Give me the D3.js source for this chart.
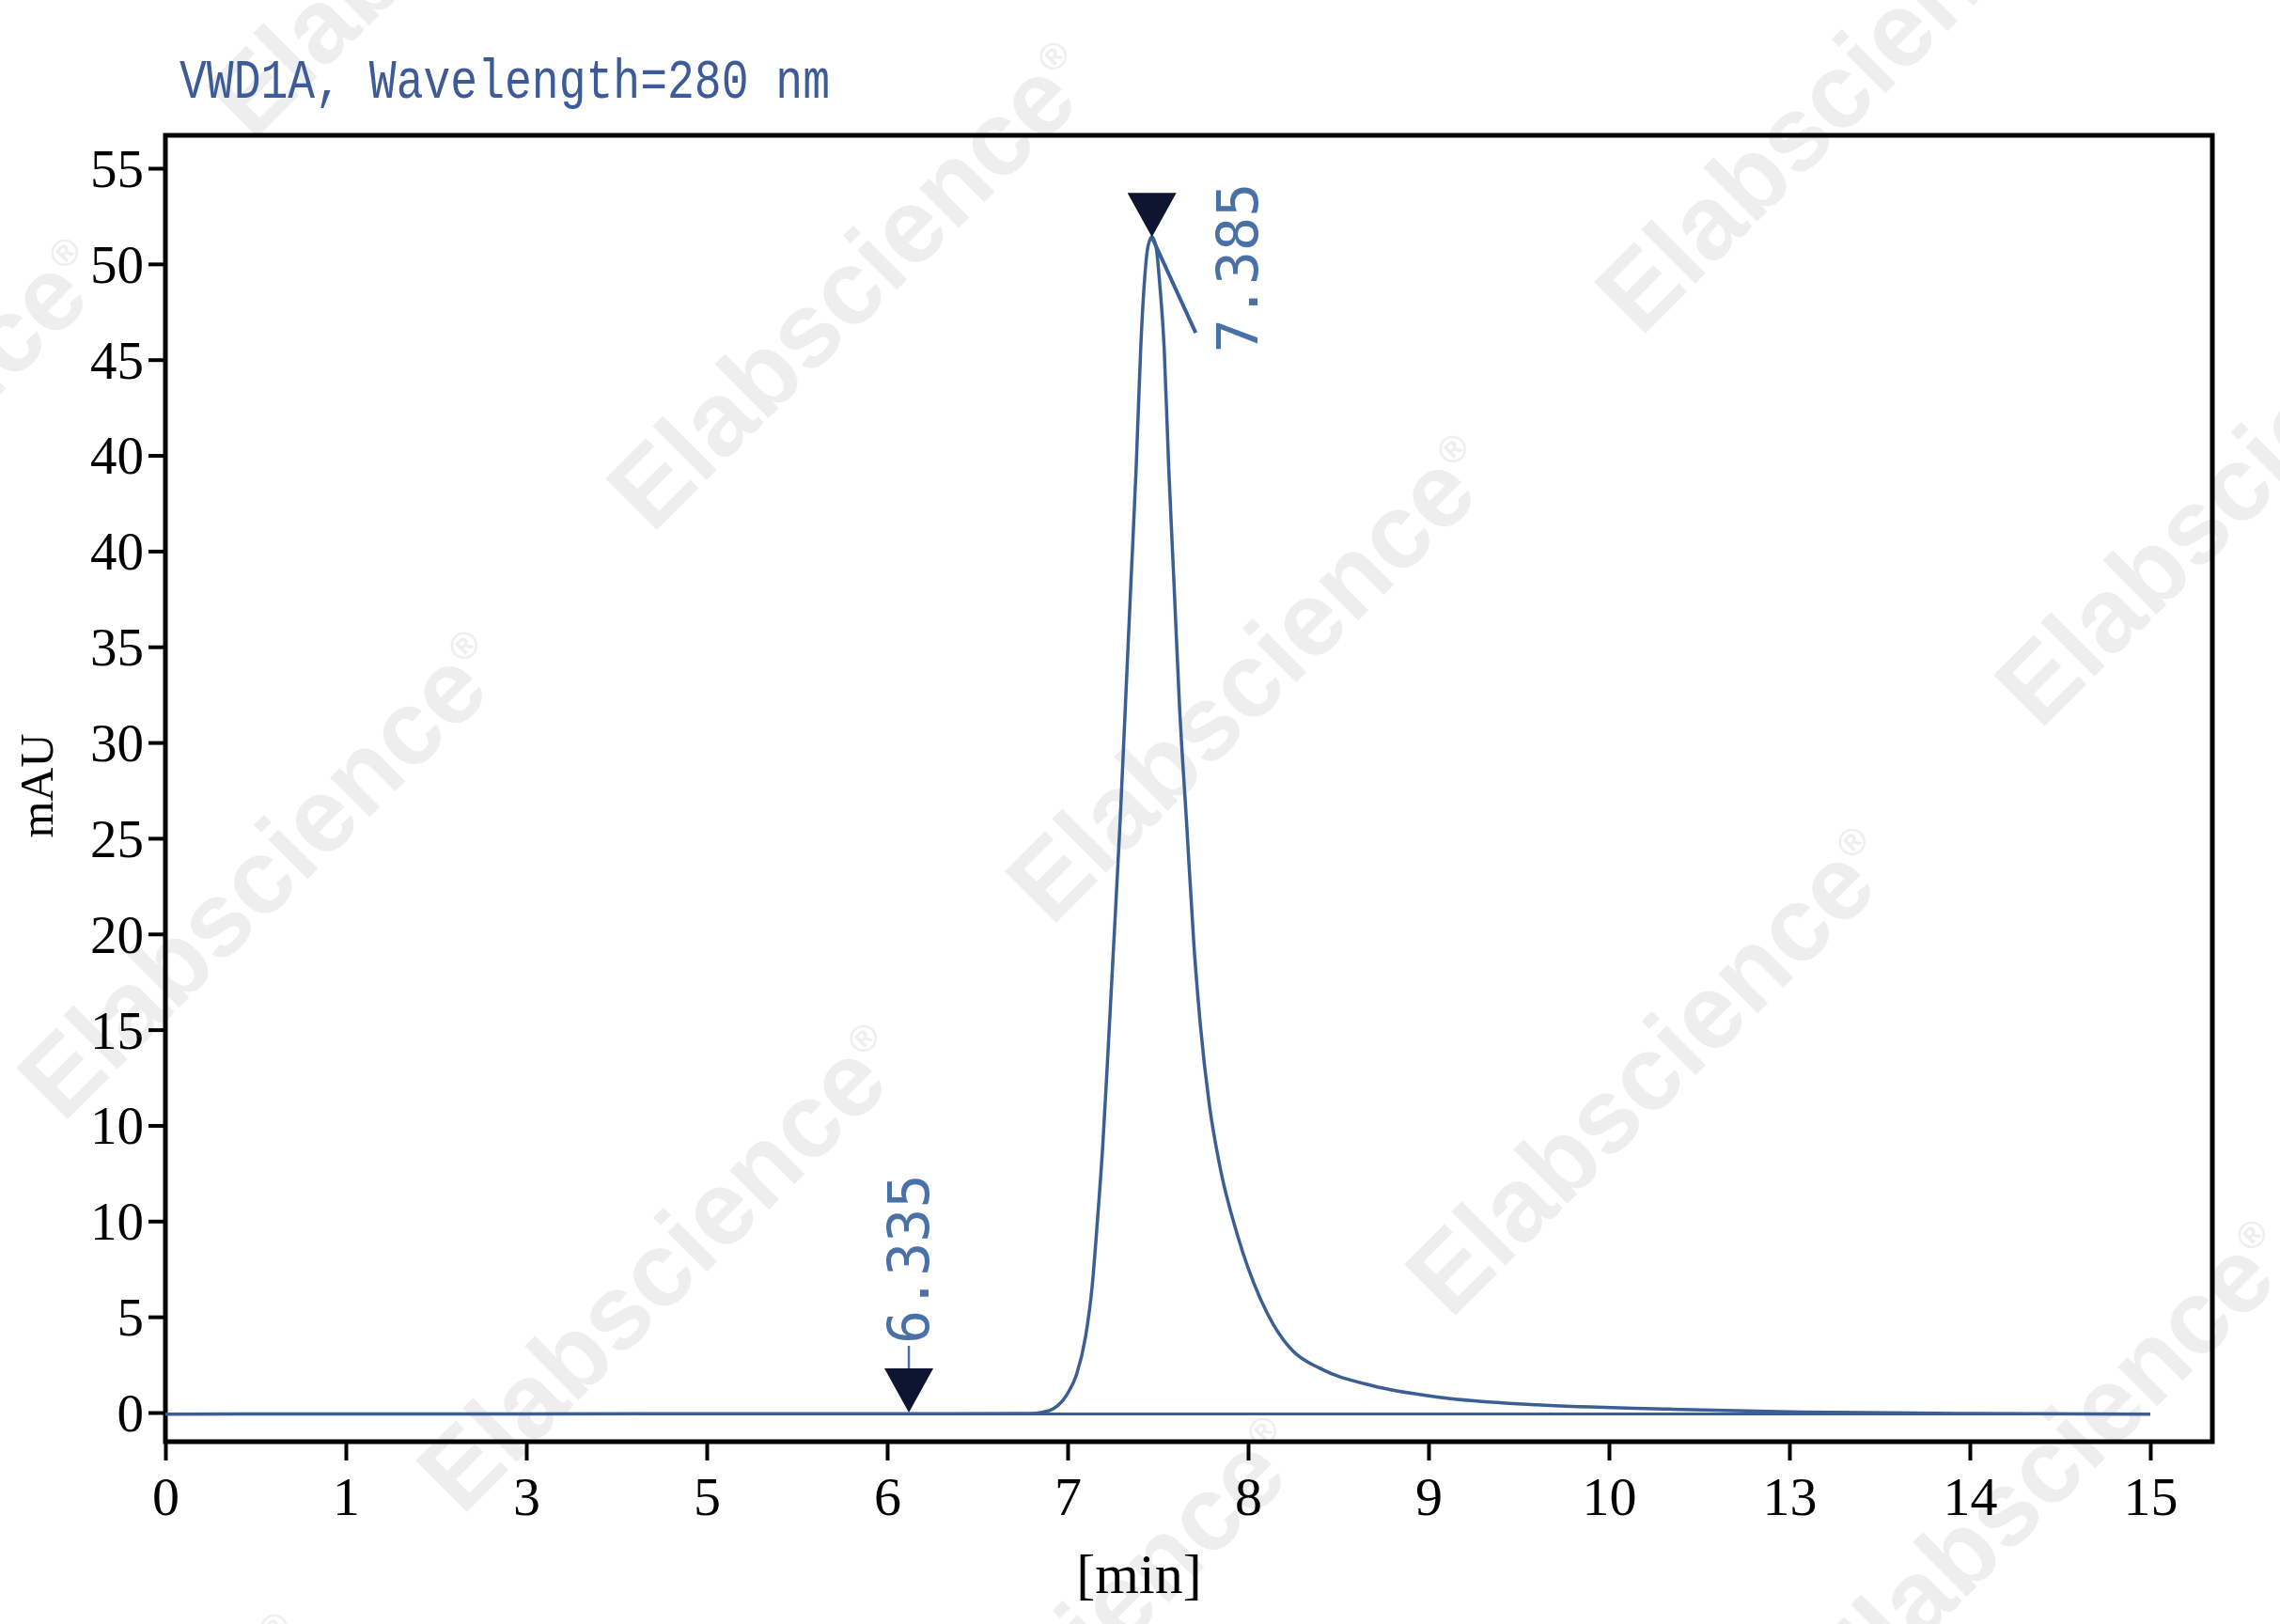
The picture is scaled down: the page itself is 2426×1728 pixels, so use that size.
<!DOCTYPE html>
<html>
<head>
<meta charset="utf-8">
<script src="https://cdn.jsdelivr.net/npm/d3@7"></script>
<style>
  body { margin: 0; background: #fff; }
  svg { display: block; }
</style>
</head>
<body>
<svg id="chart" width="2426" height="1728"></svg>
<script>
// data
const xTicks = [0, 1, 3, 5, 6, 7, 8, 9, 10, 13, 14, 15];
// y ticks sit every 5 units, the printed labels are not the same as the values
const yTicks = [0, 5, 10, 15, 20, 25, 30, 35, 40, 45, 50, 55, 60, 65];
const yTickLabels = ["0", "5", "10", "10", "15", "20", "25", "30", "35", "40", "40", "45", "50", "55"];

const signalTime = [0, 3, 6, 6.8, 6.86, 6.92, 6.97, 7.00, 7.05, 7.10, 7.135, 7.165, 7.195, 7.22, 7.255,
  7.29, 7.32, 7.35, 7.38, 7.405, 7.425, 7.445, 7.467, 7.49, 7.51, 7.535, 7.56, 7.59, 7.62,
  7.66, 7.70, 7.735, 7.785, 7.845, 7.94, 8.07, 8.14, 8.25, 8.40, 8.69, 9.06, 9.60, 11.0,
  13.06, 13.98, 15];
const signalValue = [-0.08, -0.07, -0.06, -0.05, 0.02, 0.2, 0.6, 1.0, 2.0, 4.0, 6.5, 10.0, 14.0, 18.2, 24.4,
  30.7, 36.9, 43.2, 49.4, 55.6, 59.0, 60.9, 61.4, 60.9, 59.0, 55.6, 49.4, 43.2, 36.9,
  30.7, 24.4, 20.3, 16.1, 12.8, 9.3, 5.9, 4.6, 3.2, 2.3, 1.4, 0.8, 0.4, 0.18,
  0.03, -0.05, -0.08];

const baselineTime = [0, 15];
const baselineValue = [-0.07, -0.07];

const markerTime = [6.12, 7.467];
const markerValue = [0, 61.4];
const markerLabels = ["6.335", "7.385"];

// tangent tick drawn from the peak apex
const leaderTime = [7.467, 7.71];
const leaderValue = [61.4, 56.4];

const svg = d3.select("#chart");

// frame and scale geometry
const frame = { left: 176, top: 144, right: 2354, bottom: 1534 };
const xStart = 176, xStep = 192;

const x = d3.scaleLinear()
  .domain(xTicks)
  .range(xTicks.map((d, i) => xStart + i * xStep));

const y = d3.scaleLinear()
  .domain([0, 65])
  .range([1503, 179]);

// watermark, very light, behind everything
const wm = svg.append("g").attr("class", "watermark");
const a = [425, 418], b = [-627, 627], c0 = [905, 302];
for (let j = -2; j <= 3; j++) {
  for (let i = -2; i <= 5; i++) {
    const cx = c0[0] + i * a[0] + j * b[0];
    const cy = c0[1] + i * a[1] + j * b[1];
    if (cx < -500 || cx > 2900 || cy < -500 || cy > 2200) continue;
    const t = wm.append("text")
      .attr("transform", `translate(${cx},${cy}) rotate(-45)`)
      .attr("text-anchor", "middle")
      .attr("dy", "0.35em")
      .style("font-family", "'Liberation Sans', Arial, sans-serif")
      .style("font-weight", "bold")
      .style("font-size", "112px")
      .style("fill", "#eeeeee");
    t.append("tspan").text("Elabscience");
    t.append("tspan").attr("dy", "-1.1em").style("font-size", "40px").text("®");
  }
}

// title
svg.append("text")
  .attr("x", 191)
  .attr("y", 104)
  .attr("textLength", 692)
  .attr("lengthAdjust", "spacingAndGlyphs")
  .style("font-family", "'Liberation Mono', 'DejaVu Sans Mono', monospace")
  .style("font-size", "60px")
  .style("fill", "#3d5b98")
  .text("VWD1A, Wavelength=280 nm");

// axes
const xAxis = svg.append("g")
  .attr("transform", `translate(0,${frame.bottom})`)
  .call(d3.axisBottom(x).tickValues(xTicks).tickFormat(d => d).tickSize(20).tickSizeOuter(0));

xAxis.select(".domain").remove();
xAxis.selectAll(".tick line").attr("stroke", "#000").attr("stroke-width", 4);
xAxis.selectAll(".tick text")
  .attr("y", 78)
  .attr("dy", 0)
  .style("font-family", "'Liberation Serif', 'Times New Roman', serif")
  .style("font-size", "58px")
  .style("fill", "#000");

const yAxis = svg.append("g")
  .attr("transform", `translate(${frame.left},0)`)
  .call(d3.axisLeft(y).tickValues(yTicks).tickFormat((d, i) => yTickLabels[i]).tickSize(18).tickSizeOuter(0));

yAxis.select(".domain").remove();
yAxis.selectAll(".tick line").attr("stroke", "#000").attr("stroke-width", 4);
yAxis.selectAll(".tick text")
  .attr("x", -23)
  .attr("dy", "0.34em")
  .style("font-family", "'Liberation Serif', 'Times New Roman', serif")
  .style("font-size", "57px")
  .style("fill", "#000");

// frame
svg.append("rect")
  .attr("x", frame.left)
  .attr("y", frame.top)
  .attr("width", frame.right - frame.left)
  .attr("height", frame.bottom - frame.top)
  .attr("fill", "none")
  .attr("stroke", "#000")
  .attr("stroke-width", 5);

// axis titles
svg.append("text")
  .attr("transform", "translate(56,836) rotate(-90)")
  .attr("text-anchor", "middle")
  .style("font-family", "'Liberation Serif', 'Times New Roman', serif")
  .style("font-size", "50px")
  .style("fill", "#000")
  .text("mAU");

svg.append("text")
  .attr("x", 1212)
  .attr("y", 1695)
  .attr("text-anchor", "middle")
  .style("font-family", "'Liberation Serif', 'Times New Roman', serif")
  .style("font-size", "60px")
  .style("fill", "#000")
  .text("[min]");

// baseline and signal
const line = d3.line()
  .x(d => x(d[0]))
  .y(d => y(d[1]));

svg.append("path")
  .datum(d3.zip(baselineTime, baselineValue))
  .attr("d", line)
  .attr("fill", "none")
  .attr("stroke", "#3b5e95")
  .attr("stroke-width", 3);

svg.append("path")
  .datum(d3.zip(signalTime, signalValue))
  .attr("d", line.curve(d3.curveMonotoneX))
  .attr("fill", "none")
  .attr("stroke", "#3b5e95")
  .attr("stroke-width", 3.5)
  .attr("stroke-linejoin", "round");

svg.append("path")
  .datum(d3.zip(leaderTime, leaderValue))
  .attr("d", d3.line().x(d => x(d[0])).y(d => y(d[1])))
  .attr("fill", "none")
  .attr("stroke", "#3b5e95")
  .attr("stroke-width", 4);

// peak markers and retention time labels
const markers = d3.zip(markerTime, markerValue, markerLabels);
const triW = 52, triH = 47;

markers.forEach(([t, v, label], i) => {
  const px = x(t), py = y(v);
  if (i === 0) {
    // short stem above the start marker
    svg.append("line")
      .attr("x1", px).attr("x2", px)
      .attr("y1", py - triH).attr("y2", py - triH - 24)
      .attr("stroke", "#4a70a8")
      .attr("stroke-width", 2.5);
  }
  svg.append("path")
    .attr("d", `M${px - triW / 2},${py - triH}L${px + triW / 2},${py - triH}L${px},${py}Z`)
    .attr("fill", "#0d1530");

  const lx = i === 0 ? px + 21 : px + 112;
  const ly = i === 0 ? py - triH - 26 : py + 123;
  svg.append("text")
    .attr("transform", `translate(${lx},${ly}) rotate(-90)`)
    .style("font-family", "'DejaVu Sans Mono', monospace")
    .style("font-size", "60px")
    .style("fill", "#4a70a8")
    .text(label);
});
</script>
</body>
</html>
